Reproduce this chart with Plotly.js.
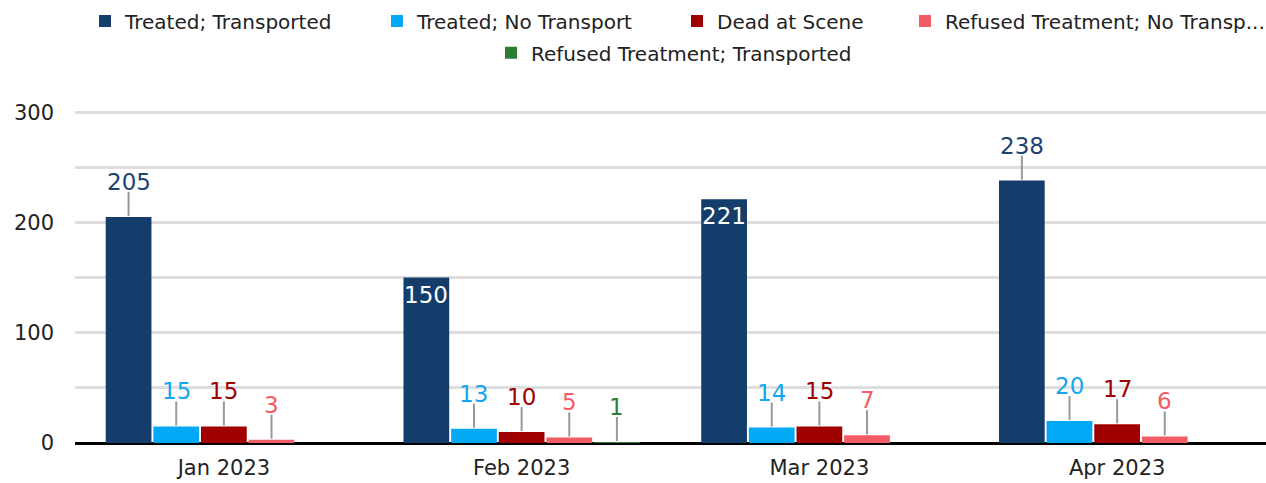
<!DOCTYPE html>
<html>
<head>
<meta charset="utf-8">
<script src="https://cdn.plot.ly/plotly-3.0.1.min.js"></script>
<style>html,body{margin:0;padding:0;background:#fff;}#chart{width:1266px;height:483px;}</style>
</head>
<body>
<div id="chart"></div>
<script>
const categories = ['Jan 2023', 'Feb 2023', 'Mar 2023', 'Apr 2023'];
const seriesNames = ['Treated; Transported', 'Treated; No Transport', 'Dead at Scene', 'Refused Treatment; No Transp...', 'Refused Treatment; Transported'];
const treatedTransported = [205, 150, 221, 238];
const treatedNoTransport = [15, 13, 14, 20];
const deadAtScene = [15, 10, 15, 17];
const refusedNoTransport = [3, 5, 7, 6];
const refusedTransported = [null, 1, null, null];
const yTickVals = [0, 100, 200, 300];
// labels drawn inside the bar top (series index, category index)
const insideLabels = [[0, 1], [0, 2]];

const seriesValues = [treatedTransported, treatedNoTransport, deadAtScene, refusedNoTransport, refusedTransported];
const colors = ['#143d6b', '#03a9f4', '#a00000', '#f25c64', '#2e7d32'];
const labelColors = ['#1d4373', '#14a6ee', '#a00000', '#f25c64', '#2e7d32'];
const FONT = 'DejaVu Sans, sans-serif';
const bargap = 0.2, nSeries = seriesValues.length;

// legend placement (one legend box per entry, in container pixels)
const legendX = [85, 377, 677, 905, 491];
const legendRowY = [0.997, 0.931];
const legendRow = [0, 0, 0, 0, 1];
const legendIds = ['legend', 'legend2', 'legend3', 'legend4', 'legend5'];

const traces = seriesValues.map((vals, s) => ({
  type: 'bar', x: categories, y: vals, name: seriesNames[s],
  marker: {color: colors[s]},
  legend: legendIds[s],
  hoverinfo: 'skip'
}));

const annotations = [], shapes = [];
seriesValues.forEach((vals, s) => {
  vals.forEach((v, c) => {
    if (v === null) return;
    const xpos = c - (1 - bargap) / 2 + (s + 0.5) * (1 - bargap) / nSeries;
    const inside = insideLabels.some(p => p[0] === s && p[1] === c);
    if (inside) {
      annotations.push({x: xpos, y: v, xref: 'x', yref: 'y', text: String(v), showarrow: false,
        yanchor: 'top', yshift: -3, borderpad: 0, font: {family: FONT, size: 23, color: '#ffffff'}});
    } else {
      shapes.push({type: 'line', xref: 'x', yref: 'y', ysizemode: 'pixel', yanchor: v,
        x0: xpos, x1: xpos, y0: 1, y1: 25, line: {color: '#999999', width: 2}});
      annotations.push({x: xpos, y: v, xref: 'x', yref: 'y', text: String(v), showarrow: false,
        yanchor: 'bottom', yshift: 21, borderpad: 0, font: {family: FONT, size: 23, color: labelColors[s]}});
    }
  });
});

const W = 1266, H = 483;
const legendFont = {family: FONT, size: 20, color: '#222222'};
const layout = {
  width: W, height: H,
  margin: {l: 75, r: 0, t: 110, b: 40},
  paper_bgcolor: '#ffffff', plot_bgcolor: '#ffffff',
  font: {family: FONT, size: 21, color: '#222222'},
  barmode: 'group', bargap: bargap, bargroupgap: 0.04,
  showlegend: true,
  xaxis: {type: 'category', showgrid: false, ticks: '', showline: false, zeroline: false,
    tickfont: {family: FONT, size: 21, color: '#222222'}, ticklabelstandoff: 10},
  yaxis: {range: [0, 302], tickvals: yTickVals, showgrid: true, gridcolor: '#dedede', gridwidth: 3,
    minor: {dtick: 50, showgrid: true, gridcolor: '#dedede', gridwidth: 3},
    zeroline: true, zerolinecolor: '#000000', zerolinewidth: 3, showline: false, ticks: '',
    tickfont: {family: FONT, size: 21, color: '#222222'}, ticklabelstandoff: 20},
  annotations: annotations, shapes: shapes
};
legendIds.forEach((id, i) => {
  layout[id] = {orientation: 'h', x: legendX[i] / W, xanchor: 'left', xref: 'container',
    y: legendRowY[legendRow[i]], yref: 'container', yanchor: 'top',
    font: legendFont, itemwidth: 30, bgcolor: 'rgba(0,0,0,0)'};
});

Plotly.newPlot('chart', traces, layout, {staticPlot: true, displayModeBar: false});
</script>
</body>
</html>
